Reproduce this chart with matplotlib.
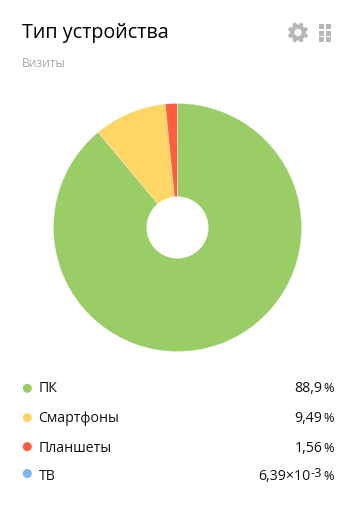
import numpy as np
import matplotlib
matplotlib.use("Agg")
import matplotlib.pyplot as plt
from matplotlib.patches import Rectangle, Circle, Polygon

W, H = 354, 505
title = "Тип устройства"
subtitle = "Визиты"
categories = ["ПК", "Смартфоны", "Планшеты", "ТВ"]
values = [88.9, 9.49, 1.56, 6.39e-3]
labels = ["88,9", "9,49", "1,56", "6,39×10"]
exponents = [None, None, None, "-3"]
colors = ["#9ACD66", "#FFD666", "#FF5C40", "#7CB5EC"]

plt.rcParams["font.family"] = ["Open Sans", "DejaVu Sans"]
fig = plt.figure(figsize=(W / 100, H / 100), dpi=100, facecolor="white")

bg = fig.add_axes([0, 0, 1, 1])
bg.set_xlim(0, W)
bg.set_ylim(H, 0)
bg.axis("off")

cx, cy, r, hole = 177.5, 227.5, 124, 31
ax = fig.add_axes([(cx - r) / W, 1 - (cy + r) / H, 2 * r / W, 2 * r / H])
ax.pie(values, colors=colors, startangle=90, counterclock=False, radius=1,
       wedgeprops=dict(linewidth=0.4, edgecolor="#ffffff66"))
ax.set_xlim(-1, 1)
ax.set_ylim(-1, 1)
ax.add_patch(Circle((0, 0), hole / r, fc="white", ec="none", zorder=5))

bg.text(21.5, 33, title, fontsize=14.2, color="#000000", va="center", ha="left")
bg.text(22, 63.5, subtitle, fontsize=8.7, color="#A8A8A8", va="center", ha="left")

# gear icon
gc = "#B7B7B7"
gx, gy = 298, 32.5
angles = np.linspace(0, 2 * np.pi, 8, endpoint=False) + np.pi / 8
for a in angles:
    c, s = np.cos(a), np.sin(a)
    px, py = -s, c
    pts = [(gx + c * 6 + px * 2.3, gy + s * 6 + py * 2.3),
           (gx + c * 6 - px * 2.3, gy + s * 6 - py * 2.3),
           (gx + c * 10.2 - px * 1.7, gy + s * 10.2 - py * 1.7),
           (gx + c * 10.2 + px * 1.7, gy + s * 10.2 + py * 1.7)]
    bg.add_patch(Polygon(pts, fc=gc, ec="none"))
bg.add_patch(Circle((gx, gy), 8, fc=gc, ec="none"))
bg.add_patch(Circle((gx, gy), 3.6, fc="white", ec="none"))

# grid icon
for i in range(2):
    for j in range(3):
        bg.add_patch(Rectangle((319 + i * 6.5, 24 + j * 6.5), 5, 5, fc="#B7B7B7", ec="none"))

rows = [389, 419, 448, 477]
bullets = [388.3, 417.7, 446.7, 473.5]
tc = "#111111"
fs = 10.2
for cat, lab, exp, col, y, by in zip(categories, labels, exponents, colors, rows, bullets):
    bg.add_patch(Circle((27.3, by), 4.5, fc=col, ec="none"))
    bg.text(38.5, y, cat, fontsize=fs, color=tc, va="center", ha="left")
    bg.text(334, y, "%", fontsize=fs - 1, color=tc, va="center", ha="right")
    if exp is None:
        bg.text(322.5, y, lab, fontsize=fs, color=tc, va="center", ha="right")
    else:
        bg.text(322, y - 3.5, exp, fontsize=fs - 1, color=tc, va="center", ha="right")
        bg.text(310.5, y, lab, fontsize=fs, color=tc, va="center", ha="right")

fig.savefig("out.png", dpi=100, facecolor="white")
